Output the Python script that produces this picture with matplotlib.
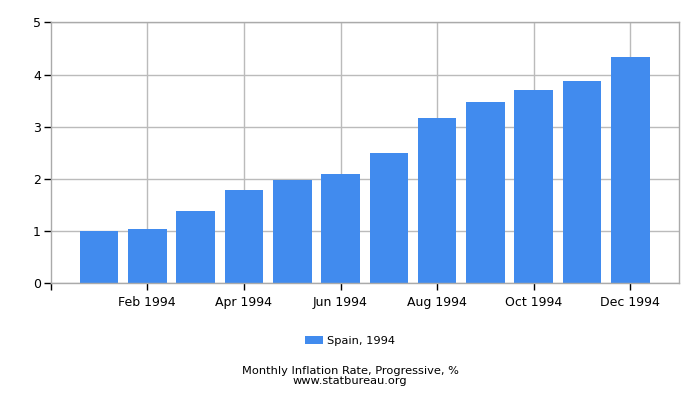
import matplotlib
matplotlib.use("Agg")
import matplotlib.pyplot as plt

months = ['Jan 1994', 'Feb 1994', 'Mar 1994', 'Apr 1994', 'May 1994', 'Jun 1994',
          'Jul 1994', 'Aug 1994', 'Sep 1994', 'Oct 1994', 'Nov 1994', 'Dec 1994']
values = [1.00, 1.04, 1.38, 1.79, 1.98, 2.09, 2.49, 3.17, 3.47, 3.70, 3.88, 4.34]
series_label = 'Spain, 1994'
title = 'Monthly Inflation Rate, Progressive, %'
source = 'www.statbureau.org'

fig = plt.figure(figsize=(7, 4), dpi=100)
ax = fig.add_axes([0.0724, 0.2918, 0.8972, 0.6522])

x = list(range(len(months)))
ax.bar(x, values, width=0.8, color='#418bee', label=series_label, zorder=2)

ax.set_xlim(-1, 12)
ax.set_ylim(0, 5)
ax.set_xticks(x[1::2])
ax.set_xticklabels(months[1::2], fontsize=9)
ax.set_xticks([-1], minor=True)
ax.set_yticks([0, 1, 2, 3, 4, 5])
ax.tick_params(axis='y', labelsize=9, length=5, width=1, pad=2)
ax.tick_params(axis='x', which='both', length=5, width=1, pad=4)
ax.grid(True, color='#bbbbbb', linewidth=1, zorder=0)
for s in ax.spines.values():
    s.set_color('#aaaaaa')
    s.set_linewidth(1)

fig.legend(loc='center', bbox_to_anchor=(0.5, 0.148), frameon=False, fontsize=8.2,
           handlelength=1.6, handleheight=0.7, handletextpad=0.4)
# title and source as one two-line block, tight spacing like the original
fig.text(0.5, 0.06, title + '\n' + source, ha='center', va='center',
         fontsize=8.2, linespacing=0.95)

fig.savefig('out.png', dpi=100)
